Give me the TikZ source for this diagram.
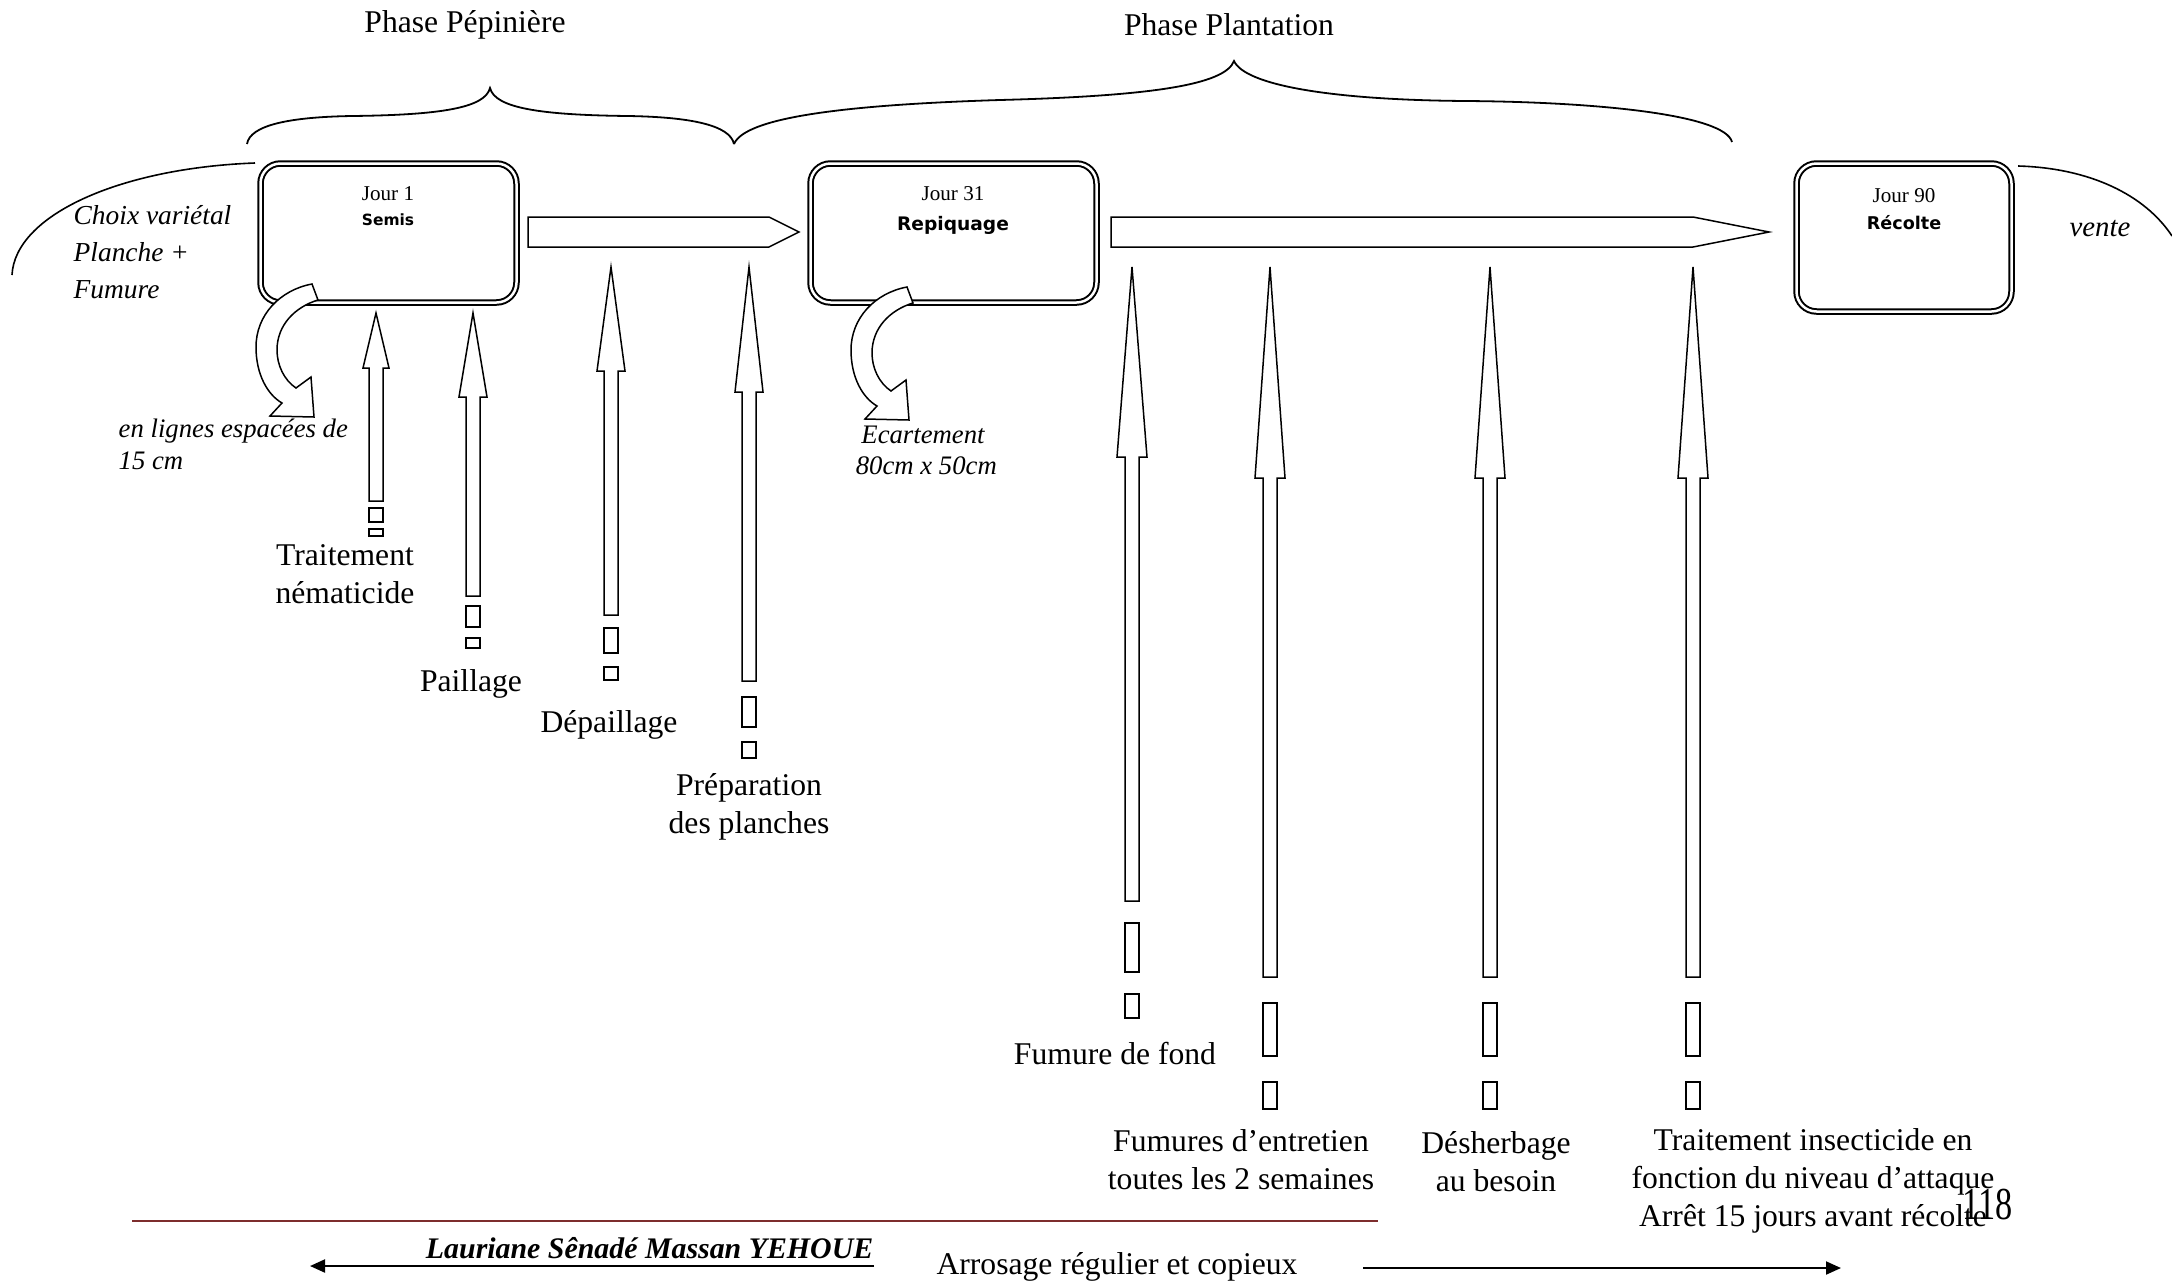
\documentclass[tikz,border=0pt]{standalone}
\usepackage{fontspec}
\setmainfont{Liberation Serif}
\newfontfamily\comicfont{DejaVu Sans}
\usetikzlibrary{arrows.meta}
\definecolor{rulered}{RGB}{125,45,45}
\newcommand{\uparr}[6]{\draw[blk] (#1,#2) -- (#1+#5,#3) -- (#1+#6,#3) -- (#1+#6,#4) -- (#1-#6,#4) -- (#1-#6,#3) -- (#1-#5,#3) -- cycle;}
\newcommand{\dashpiece}[4]{\draw[blk] (#1-#2,#3) rectangle (#1+#2,#4);}
\newcommand{\curvarr}{\draw[blk] (312,284) .. controls (280,290) and (256,315) .. (256,347) .. controls (256,375) and (268,395) .. (282,403) -- (270,416) -- (314,417) -- (311,377) -- (296,388) .. controls (284,380) and (277,365) .. (277,350) .. controls (277,325) and (295,307) .. (318,300) -- cycle;}
\begin{document}
\begin{tikzpicture}[x=0.1mm,y=-0.1mm,
  box/.style={draw,line width=0.2mm,double=white,double distance=0.25mm,rounded corners=2mm,inner sep=0pt},
  jour/.style={font=\fontsize{6}{7}\selectfont, inner sep=0pt},
  act/.style={font=\comicfont\bfseries\fontsize{#1}{6}\selectfont, inner sep=0pt},
  lab/.style={font=\fontsize{9}{10.8}\selectfont, align=center, inner sep=0pt},
  itlab/.style={font=\itshape\fontsize{7.6}{9}\selectfont, inner sep=0pt},
  blk/.style={draw, fill=white, line width=0.15mm, line join=miter},
  thin/.style={line width=0.16mm},
  brace/.style={line width=0.18mm}
]
\useasboundingbox (0,0) rectangle (2172,1280);

% phase titles
\node[lab] (ph1) at (465,25) {Phase Pépinière};
\node[lab] (ph2) at (1229,25) {Phase Plantation};

% braces
\draw[brace] (247,144) .. controls (250,125) and (290,117) .. (352,116) .. controls (440,115) and (485,108) .. (490,88) .. controls (495,108) and (540,115) .. (628,116) .. controls (690,117) and (730,125) .. (734,144);
\draw[brace] (734,144) .. controls (745,118) and (840,105) .. (1000,100) .. controls (1150,96) and (1225,85) .. (1234,61) .. controls (1245,85) and (1330,100) .. (1466,101) .. controls (1600,102) and (1725,115) .. (1732,142);

% side curves
\draw[thin] (255,163) .. controls (120,168) and (15,215) .. (12,275);
\draw[thin] (2018,166) .. controls (2090,168) and (2145,195) .. (2172,236);

% boxes
\node[box, minimum width=25.6mm, minimum height=13.9mm] (b1) at (388.5,233) {};
\node[box, minimum width=28.6mm, minimum height=13.9mm] (b2) at (953.5,233) {};
\node[box, minimum width=21.5mm, minimum height=14.8mm] (b3) at (1904,237.5) {};
\node[jour] (j1) at (388,194) {Jour 1};
\node[act=4.4] (s1) at (388,220) {Semis};
\node[jour] (j2) at (953,194) {Jour 31};
\node[act=5.3] (s2) at (953,225) {Repiquage};
\node[jour] (j3) at (1904,196) {Jour 90};
\node[act=5.0] (s3) at (1904,223) {Récolte};

% horizontal block arrows
\draw[blk] (528,217) -- (769,217) -- (799,232) -- (769,247) -- (528,247) -- cycle;
\draw[blk] (1111,217) -- (1693,217) -- (1769,232) -- (1693,247) -- (1111,247) -- cycle;

% curved arrows
\curvarr
\begin{scope}[shift={(595,3)}]
\curvarr
\end{scope}

% side texts
\node[font=\itshape\fontsize{7.8}{10.5}\selectfont, align=left, anchor=west, inner sep=0pt] (choix) at (73,252) {Choix variétal\\Planche +\\Fumure};
\node[font=\itshape\fontsize{8.2}{10}\selectfont, inner sep=0pt] (vente) at (2100,229) {vente};
\node[itlab, align=left, anchor=west, font=\itshape\fontsize{7.6}{9.1}\selectfont] (lignes) at (118,444) {en lignes espacées de\\15 cm};
\node[itlab, align=center, font=\itshape\fontsize{7.6}{8.8}\selectfont] (ecart) at (923,450) {Ecartement\\\ 80cm x 50cm};

% vertical arrows, nursery phase
\uparr{376}{313}{368}{501}{13}{7}
\dashpiece{376}{7}{508}{522}\dashpiece{376}{7}{529}{536}
\uparr{473}{313}{397}{596}{14}{7}
\dashpiece{473}{7}{606}{627}\dashpiece{473}{7}{638}{648}
\uparr{611}{267}{371}{615}{14}{7}
\dashpiece{611}{7}{628}{653}\dashpiece{611}{7}{667}{680}
\uparr{749}{267}{392}{681}{14}{7}
\dashpiece{749}{7}{697}{727}\dashpiece{749}{7}{742}{758}

% vertical arrows, plantation phase
\uparr{1132}{267}{457}{901}{15}{7}
\dashpiece{1132}{7}{923}{972}\dashpiece{1132}{7}{994}{1018}
\uparr{1270}{267}{478}{977}{15}{7}
\dashpiece{1270}{7}{1003}{1056}\dashpiece{1270}{7}{1082}{1109}
\uparr{1490}{267}{478}{977}{15}{7}
\dashpiece{1490}{7}{1003}{1056}\dashpiece{1490}{7}{1082}{1109}
\uparr{1693}{267}{478}{977}{15}{7}
\dashpiece{1693}{7}{1003}{1056}\dashpiece{1693}{7}{1082}{1109}

% labels
\node[lab] (l1) at (345,574) {Traitement\\nématicide};
\node[lab] (l2) at (471,684) {Paillage};
\node[lab] (l3) at (609,725) {Dépaillage};
\node[lab] (l4) at (749,807) {Préparation\\des planches};
\node[lab] (l5) at (1115,1053) {Fumure de fond};
\node[lab] (l6) at (1241,1160) {Fumures d’entretien\\toutes les 2 semaines};
\node[lab] (l7) at (1496,1162) {Désherbage\\au besoin};
\node[lab] (l8) at (1813,1181) {Traitement insecticide en\\fonction du niveau d’attaque\\Arrêt 15 jours avant récolte};
\node[inner sep=0pt] (page) at (1988,1205) {\scalebox{0.75}[1]{\fontsize{13}{14}\selectfont 118}};

% footer
\draw[rulered, line width=0.25mm] (132,1221) -- (1378,1221);
\node[font=\bfseries\itshape\fontsize{8.5}{10}\selectfont, anchor=base east, inner sep=0pt] (auth) at (874,1258) {Lauriane Sênadé Massan YEHOUE};
\node[font=\fontsize{9}{10}\selectfont, anchor=base, inner sep=0pt] (arros) at (1117,1274) {Arrosage régulier et copieux};
\coordinate (la) at (874,1266);
\coordinate (lb) at (310,1266);
\coordinate (ra) at (1363,1268);
\coordinate (rb) at (1841,1268);
\draw[line width=0.2mm, -{Triangle[length=1.5mm,width=1.3mm]}] (la) -- (lb);
\draw[line width=0.2mm, -{Triangle[length=1.5mm,width=1.3mm]}] (ra) -- (rb);
\end{tikzpicture}
\end{document}
